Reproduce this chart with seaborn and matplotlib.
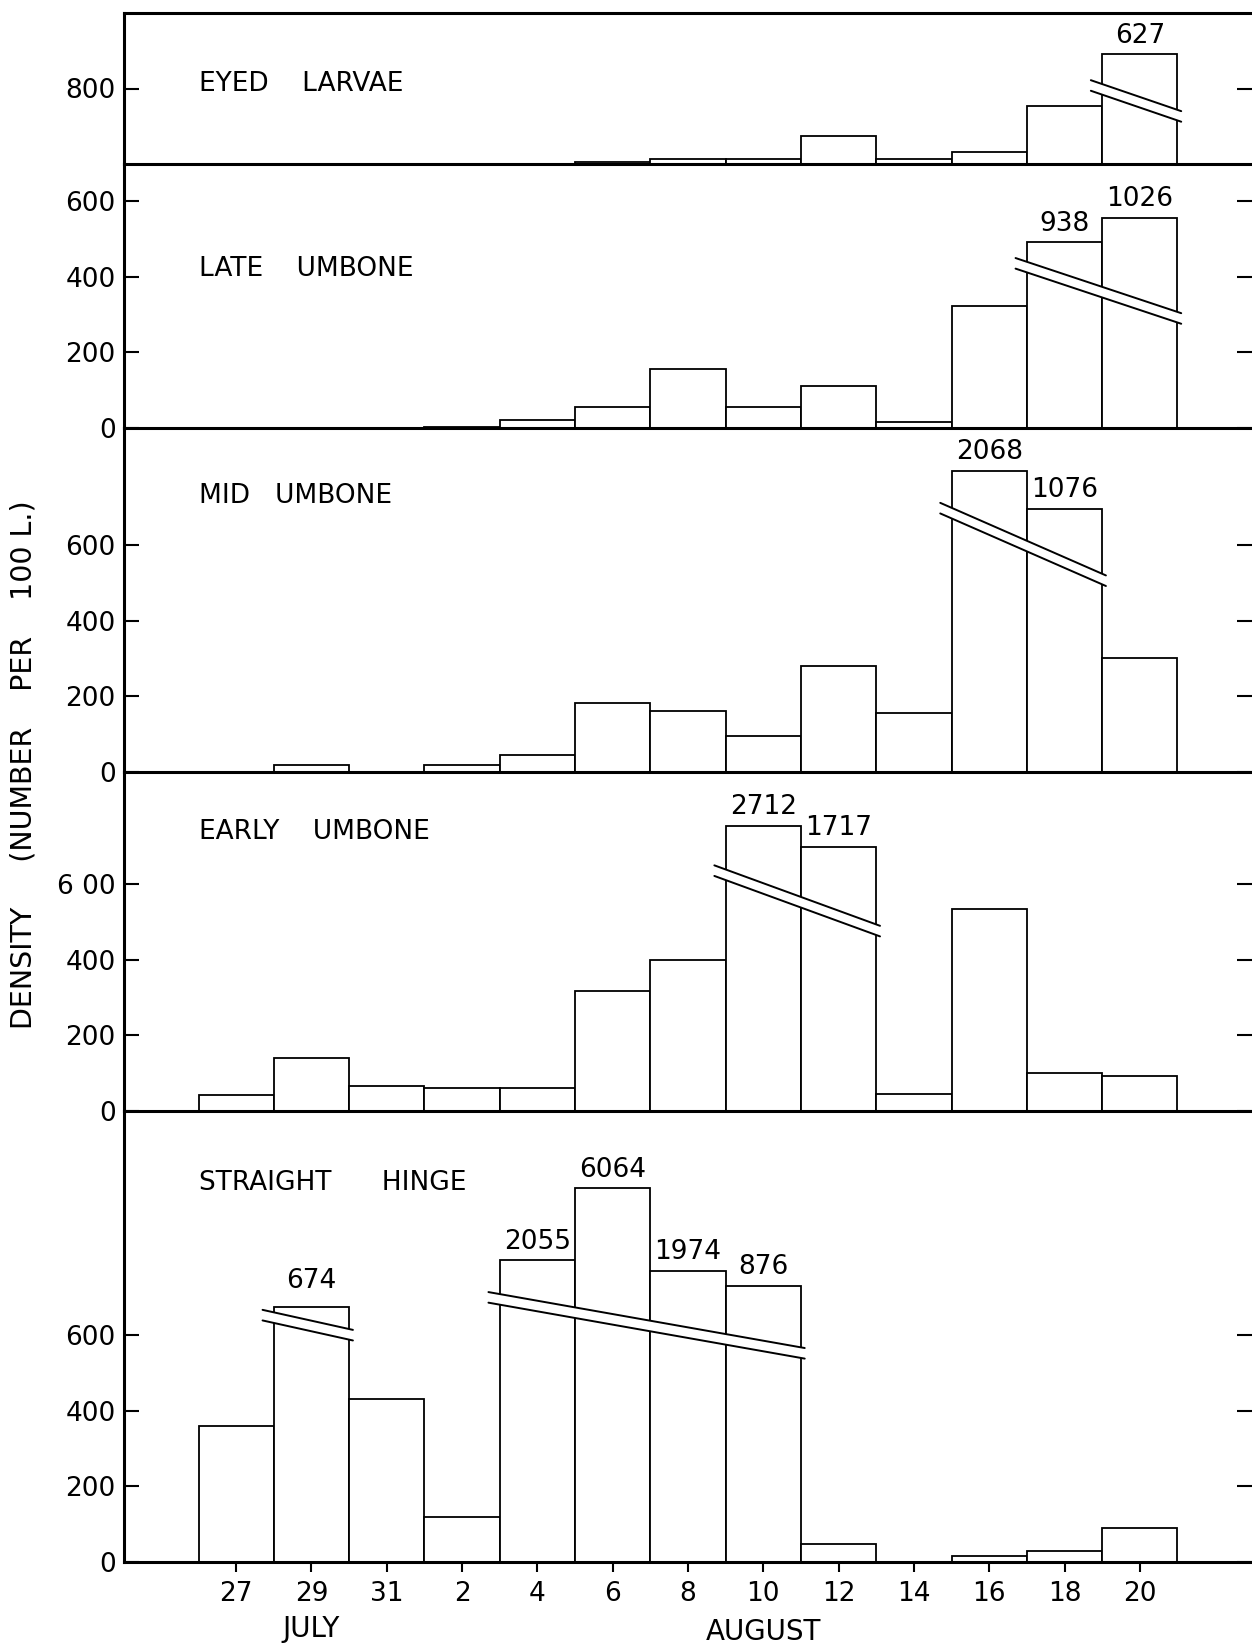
import matplotlib
matplotlib.use('Agg')
import matplotlib.pyplot as plt
import matplotlib.transforms as mtransforms
import seaborn as sns
import pandas as pd
import numpy as np

# sampling dates (2-day bins), July 27 .. August 20
dates = ['27', '29', '31', '2', '4', '6', '8', '10', '12', '14', '16', '18', '20']

# density, number per 100 L
eyed = [0, 0, 0, 0, 1, 4, 12, 14, 73, 14, 33, 154, 627]
late = [0, 0, 0, 2, 22, 55, 156, 55, 110, 16, 322, 938, 1026]
mid = [0, 18, 0, 18, 45, 182, 161, 94, 280, 157, 2068, 1076, 302]
early = [42, 140, 65, 62, 62, 318, 400, 2712, 1717, 46, 534, 101, 93]
hinge = [359, 674, 430, 120, 2055, 6064, 1974, 876, 48, 0, 15, 30, 90]

# broken bars: height they are drawn to on the page
eyed_cut = {'20': 291}
late_cut = {'18': 492, '20': 556}
mid_cut = {'16': 797, '18': 697}
early_cut = {'10': 754, '12': 699}
hinge_cut = {'29': 695, '4': 798, '6': 989, '8': 771, '10': 730}

sns.set_theme(style='white')
plt.rcParams['font.family'] = ['DejaVu Sans']
plt.rcParams['text.color'] = 'black'
plt.rcParams['axes.labelcolor'] = 'black'
plt.rcParams['xtick.color'] = 'black'
plt.rcParams['ytick.color'] = 'black'

W, H = 1252, 1645
fig = plt.figure(figsize=(W / 100, H / 100), dpi=100)

# (name, values, cuts, ymax, yticks, yticklabels, label y, breaks[(first, last, y0, y1)], top/bottom px)
panels = [
    ('EYED    LARVAE', eyed, eyed_cut, 400, [200], ['800'], 212,
     [('20', '20', 222, 140)], (13, 164)),
    ('LATE    UMBONE', late, late_cut, 699, [0, 200, 400, 600], ['0', '200', '400', '600'], 421,
     [('18', '20', 450, 304)], (164, 428)),
    ('MID   UMBONE', mid, mid_cut, 910, [0, 200, 400, 600], ['0', '200', '400', '600'], 730,
     [('16', '18', 712, 520)], (428, 772)),
    ('EARLY    UMBONE', early, early_cut, 897, [0, 200, 400, 600], ['0', '200', '400', '6 00'], 738,
     [('10', '12', 650, 490)], (772, 1111)),
    ('STRAIGHT      HINGE', hinge, hinge_cut, 1193, [0, 200, 400, 600], ['0', '200', '400', '600'], 1003,
     [('29', '29', 667, 614), ('4', '10', 714, 566)], (1111, 1562)),
]

left = 124 / W
gap = 28
fs = 19
axes = []
for k, (name, vals, cuts, ymax, yt, ytl, ly, breaks, (ytop, ybot)) in enumerate(panels):
    ax = fig.add_axes([left, 1 - ybot / H, 1 - left, (ybot - ytop) / H])
    axes.append(ax)
    shown = [min(v, cuts.get(d, v)) for d, v in zip(dates, vals)]
    df = pd.DataFrame({'date': dates, 'density': shown})
    sns.barplot(data=df, x='date', y='density', order=dates, width=1.0, color='white',
                saturation=1, edgecolor='black', linewidth=1.3, errorbar=None, ax=ax)
    ax.set_xlim(-1.49, 13.49)
    ax.set_ylim(0, ymax)
    ax.set_xlabel('')
    ax.set_ylabel('')
    ax.set_facecolor('none')

    ax.set_yticks(yt)
    ax.set_yticklabels(ytl)
    ax.yaxis.set_ticks_position('both')
    ax.tick_params(axis='y', direction='in', length=11, width=1.5, labelsize=fs,
                   pad=6, labelright=False)

    for side in ['top', 'right']:
        ax.spines[side].set_visible(False)
    if k == 0:
        ax.spines['top'].set_visible(True)
    for side in ['left', 'bottom', 'top']:
        ax.spines[side].set_color('black')
        ax.spines[side].set_linewidth(2.2)

    ax.text(-0.5, ly, name, ha='left', va='center', fontsize=fs)

    # true values over the broken bars
    for d, c in cuts.items():
        i = dates.index(d)
        ax.annotate(str(vals[i]), (i, c), xytext=(0, 4), textcoords='offset points',
                    ha='center', va='bottom', fontsize=fs)

    # break marks
    for first, last, y0, y1 in breaks:
        x0 = dates.index(first) - 0.65
        x1 = dates.index(last) + 0.55
        ax.fill([x0, x1, x1, x0], [y0, y1, y1 - gap, y0 - gap], color='white', lw=0, zorder=5)
        ax.plot([x0, x1], [y0, y1], color='black', lw=1.4, zorder=6)
        ax.plot([x0, x1], [y0 - gap, y1 - gap], color='black', lw=1.4, zorder=6)

    if k < len(panels) - 1:
        ax.tick_params(axis='x', bottom=False, labelbottom=False)
    else:
        ax.tick_params(axis='x', direction='out', bottom=True, length=7, width=1.5,
                       labelsize=fs, pad=7)

bax = axes[-1]
trans = mtransforms.blended_transform_factory(bax.transData, fig.transFigure)
bax.text(dates.index('29'), 1 - 1629 / H, 'JULY', transform=trans, ha='center', va='center', fontsize=20)
bax.text(dates.index('10'), 1 - 1632 / H, 'AUGUST', transform=trans, ha='center', va='center', fontsize=20)

fig.text(24 / W, 1 - 765 / H, 'DENSITY     (NUMBER    PER    100 L.)', rotation=90,
         ha='center', va='center', fontsize=20.5)

fig.savefig('out.png', dpi=100, facecolor='white')
